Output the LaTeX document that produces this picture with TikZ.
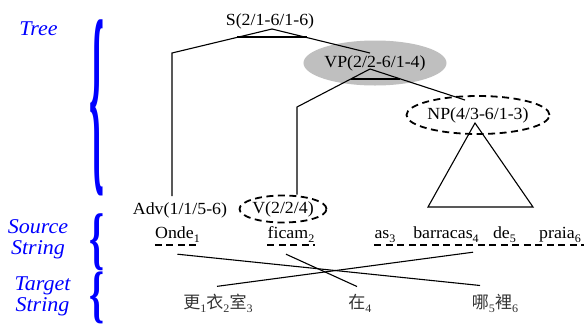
\documentclass[tikz,border=0pt]{standalone}
\usepackage{fontspec}
\setmainfont{Liberation Serif}[FakeStretch=1.05]
\newfontfamily\cjk{Noto Sans CJK TC}
\usepackage{graphicx}
\usetikzlibrary{shapes.geometric}
\newcommand\wsub[1]{\raisebox{-4pt}{\rmfamily\fontsize{11.5}{11.5}\selectfont #1}}
\begin{document}
\begin{tikzpicture}[x=1pt,y=-1pt,
  lbl/.style={font=\fontsize{17}{17}\selectfont, inner sep=0},
  side/.style={font=\fontsize{21}{21}\selectfont\itshape, text=blue, inner sep=0, anchor=base},
  bracenode/.style={text=blue, inner sep=0, font=\bfseries},
  edge/.style={line width=1.1pt},
  dsh/.style={line width=1.8pt, dash pattern=on 7pt off 4.5pt},
  word/.style={font=\fontsize{17}{17}\selectfont, inner xsep=0, inner ysep=3pt, anchor=base},
  zh/.style={font=\cjk\fontsize{17}{17}\selectfont, text=black!80, inner sep=0, anchor=base},
]
\useasboundingbox (0,0) rectangle (587,325);

% side labels and braces
\node[side] (Ltree) at (38.5,35) {Tree};
\node[side] (Lsrc1) at (38,233) {Source};
\node[side] (Lsrc2) at (38,254) {String};
\node[side] (Ltgt1) at (42.5,290) {Target};
\node[side] (Ltgt2) at (42.5,311) {String};
\node[bracenode] (Btree) at (97,108) {\resizebox*{15pt}{176pt}{\{}};
\node[bracenode] (Bsrc) at (97,242) {\resizebox*{15pt}{57pt}{\{}};
\node[bracenode] (Btgt) at (97,298) {\resizebox*{15pt}{52pt}{\{}};

% tree nodes
\node[lbl, anchor=base] (S) at (270,25) {S(2/1-6/1-6)};
\node[lbl, ellipse, fill=black!25, minimum width=116pt, minimum height=45pt] (VP) at (375,63) {VP(2/2-6/1-4)};
\node[lbl, ellipse, draw, dsh, minimum width=116pt, minimum height=38pt] (NP) at (478,115) {NP(4/3-6/1-3)};
\node[lbl, ellipse, draw, dsh, minimum width=84pt, minimum height=27pt] (V) at (283,209) {V(2/2/4)};
\node[lbl, anchor=base] (Adv) at (180,214) {Adv(1/1/5-6)};

\coordinate (Sa) at (272,29);
\coordinate (Sl) at (172,53);
\coordinate (VPa) at (370,69);
\coordinate (VPl) at (297,107);

\draw[edge] (Sa) -- (Sl) -- ([yshift=6pt]Sl |- Adv.north);
\draw[edge] (Sa) -- ([xshift=-5pt,yshift=10pt]VP.center);
\draw[edge] (237,37) -- (307,37);
\draw[edge] (VPa) -- (VPl) -- (VPl |- V.north);
\draw[edge] (VPa) -- ([xshift=-13pt,yshift=15pt]NP.center);
\draw[edge] (350.5,79) -- (400,79);
\draw[edge] ([xshift=-3pt,yshift=-8pt]NP.center) -- (428,207) -- (533,207) -- cycle;

% source words
\node[word] (w1) at (177.5,238) {Onde\wsub{1}};
\node[word] (w2) at (291,238) {ficam\wsub{2}};
\node[word] (w3) at (385,238) {as\wsub{3}};
\node[word] (w4) at (446,238) {barracas\wsub{4}};
\node[word] (w5) at (504.5,238) {de\wsub{5}};
\node[word] (w6) at (560,238) {praia\wsub{6}};
\draw[dsh] (w1.south west) -- (w1.south east);
\draw[dsh] (w2.south west) -- (w2.south east);
\draw[dsh] (w3.south west) -- ([xshift=3pt]w6.south east);

% target words
\node[zh] (t1) at (218,308) {更\wsub{1}衣\wsub{2}室\wsub{3}};
\node[zh] (t2) at (360,308) {在\wsub{4}};
\node[zh] (t3) at (495,308) {哪\wsub{5}裡\wsub{6}};

% alignments
\draw[edge] ([yshift=-9pt]w1.south) -- ([xshift=-15pt,yshift=8pt]t3.north);
\draw[edge] ([xshift=-5pt,yshift=-9pt]w2.south) -- ([xshift=-3pt,yshift=7pt]t2.north);
\draw[edge] ([xshift=27pt,yshift=-7pt]w4.south) -- ([xshift=-1pt,yshift=7pt]t1.north);
\end{tikzpicture}
\end{document}
